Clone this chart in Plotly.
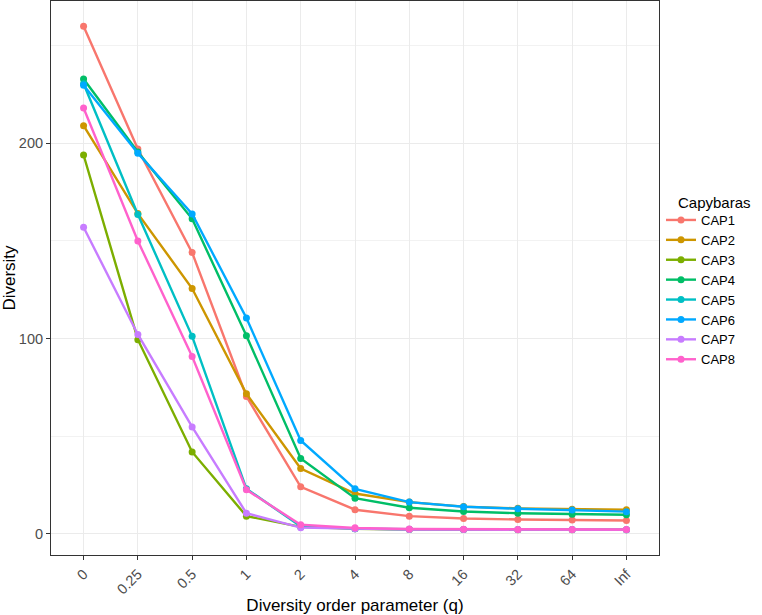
import plotly.graph_objects as go

q_labels = ["0", "0.25", "0.5", "1", "2", "4", "8", "16", "32", "64", "Inf"]

series_names = ["CAP1", "CAP2", "CAP3", "CAP4", "CAP5", "CAP6", "CAP7", "CAP8"]

CAP1 = [260.0, 197.1, 144.0, 70.3, 24.0, 12.3, 9.0, 7.8, 7.3, 7.0, 6.8]
CAP2 = [209.0, 164.0, 125.6, 71.7, 33.4, 20.6, 16.2, 13.9, 13.0, 12.5, 12.3]
CAP3 = [194.0, 99.4, 41.9, 9.0, 3.5, 2.5, 2.2, 2.1, 2.0, 2.0, 2.0]
CAP4 = [232.9, 195.5, 161.3, 101.4, 38.5, 18.2, 13.3, 11.4, 10.5, 10.0, 9.7]
CAP5 = [230.5, 163.5, 101.1, 23.0, 3.8, 2.6, 2.3, 2.2, 2.1, 2.1, 2.0]
CAP6 = [229.8, 194.9, 163.8, 110.5, 47.8, 23.0, 16.2, 13.8, 12.8, 12.2, 11.3]
CAP7 = [157.0, 102.1, 54.7, 10.5, 3.1, 2.5, 2.2, 2.1, 2.0, 2.0, 2.0]
CAP8 = [218.1, 150.0, 90.8, 22.5, 4.6, 3.0, 2.4, 2.3, 2.2, 2.2, 2.2]

colors = ["#F8766D", "#CD9600", "#7CAE00", "#00BE67",
          "#00BFC4", "#00A9FF", "#C77CFF", "#FF61CC"]

legend_title = "Capybaras"

all_series = [CAP1, CAP2, CAP3, CAP4, CAP5, CAP6, CAP7, CAP8]

FONT = "Liberation Sans, Arial, sans-serif"

fig = go.Figure()
for name, vals, col in zip(series_names, all_series, colors):
    fig.add_trace(go.Scatter(
        x=q_labels, y=vals, name=name, mode="lines+markers",
        line=dict(color=col, width=2.4),
        marker=dict(color=col, size=7),
    ))

vmin = min(min(s) for s in all_series)
vmax = max(max(s) for s in all_series)
span = vmax - vmin
yr = [vmin - 0.05 * span, vmax + 0.05 * span]

W, H = 762, 615
ML, MR, MT, MB = 51, 103, 1, 60
PW, PH = W - ML - MR, H - MT - MB

def px_x(px):
    return (px - ML) / PW

def px_y(py):
    return 1 - (py - MT) / PH

fig.update_layout(
    width=W, height=H,
    margin=dict(l=ML, r=MR, t=MT, b=MB, pad=0),
    paper_bgcolor="white", plot_bgcolor="white",
    font=dict(family=FONT, color="black"),
    showlegend=True,
    legend=dict(
        font=dict(size=13, color="black"),
        x=px_x(661), xanchor="left", y=px_y(290), yanchor="middle",
        itemwidth=30, tracegroupgap=0,
        bgcolor="rgba(0,0,0,0)",
    ),
    annotations=[dict(
        text=legend_title, xref="paper", yref="paper",
        x=px_x(676), y=px_y(202), xanchor="left", yanchor="middle",
        showarrow=False, font=dict(size=15, color="black"),
    )],
    xaxis=dict(
        type="category",
        categoryorder="array", categoryarray=q_labels,
        range=[-0.6, len(q_labels) - 0.4],
        showgrid=True, gridcolor="#EBEBEB", gridwidth=1.1,
        showline=True, linecolor="#333333", linewidth=1.1, mirror=True,
        ticks="outside", ticklen=4, tickcolor="#333333", tickwidth=1.1,
        tickangle=-45,
        tickfont=dict(size=14.5, color="#4D4D4D"),
        title=dict(text="Diversity order parameter (q)",
                   font=dict(size=17, color="black"), standoff=2),
        zeroline=False,
    ),
    yaxis=dict(
        range=yr,
        tick0=0, dtick=100,
        showgrid=True, gridcolor="#EBEBEB", gridwidth=1.1,
        minor=dict(dtick=50, tick0=0, showgrid=True, gridcolor="#F2F2F2",
                   gridwidth=0.6, ticks=""),
        showline=True, linecolor="#333333", linewidth=1.1, mirror=True,
        ticks="outside", ticklen=4, tickcolor="#333333", tickwidth=1.1,
        tickfont=dict(size=14.5, color="#4D4D4D"),
        title=dict(text="Diversity", font=dict(size=17, color="black"),
                   standoff=5),
        zeroline=False,
    ),
)

fig.write_html("out.html")
